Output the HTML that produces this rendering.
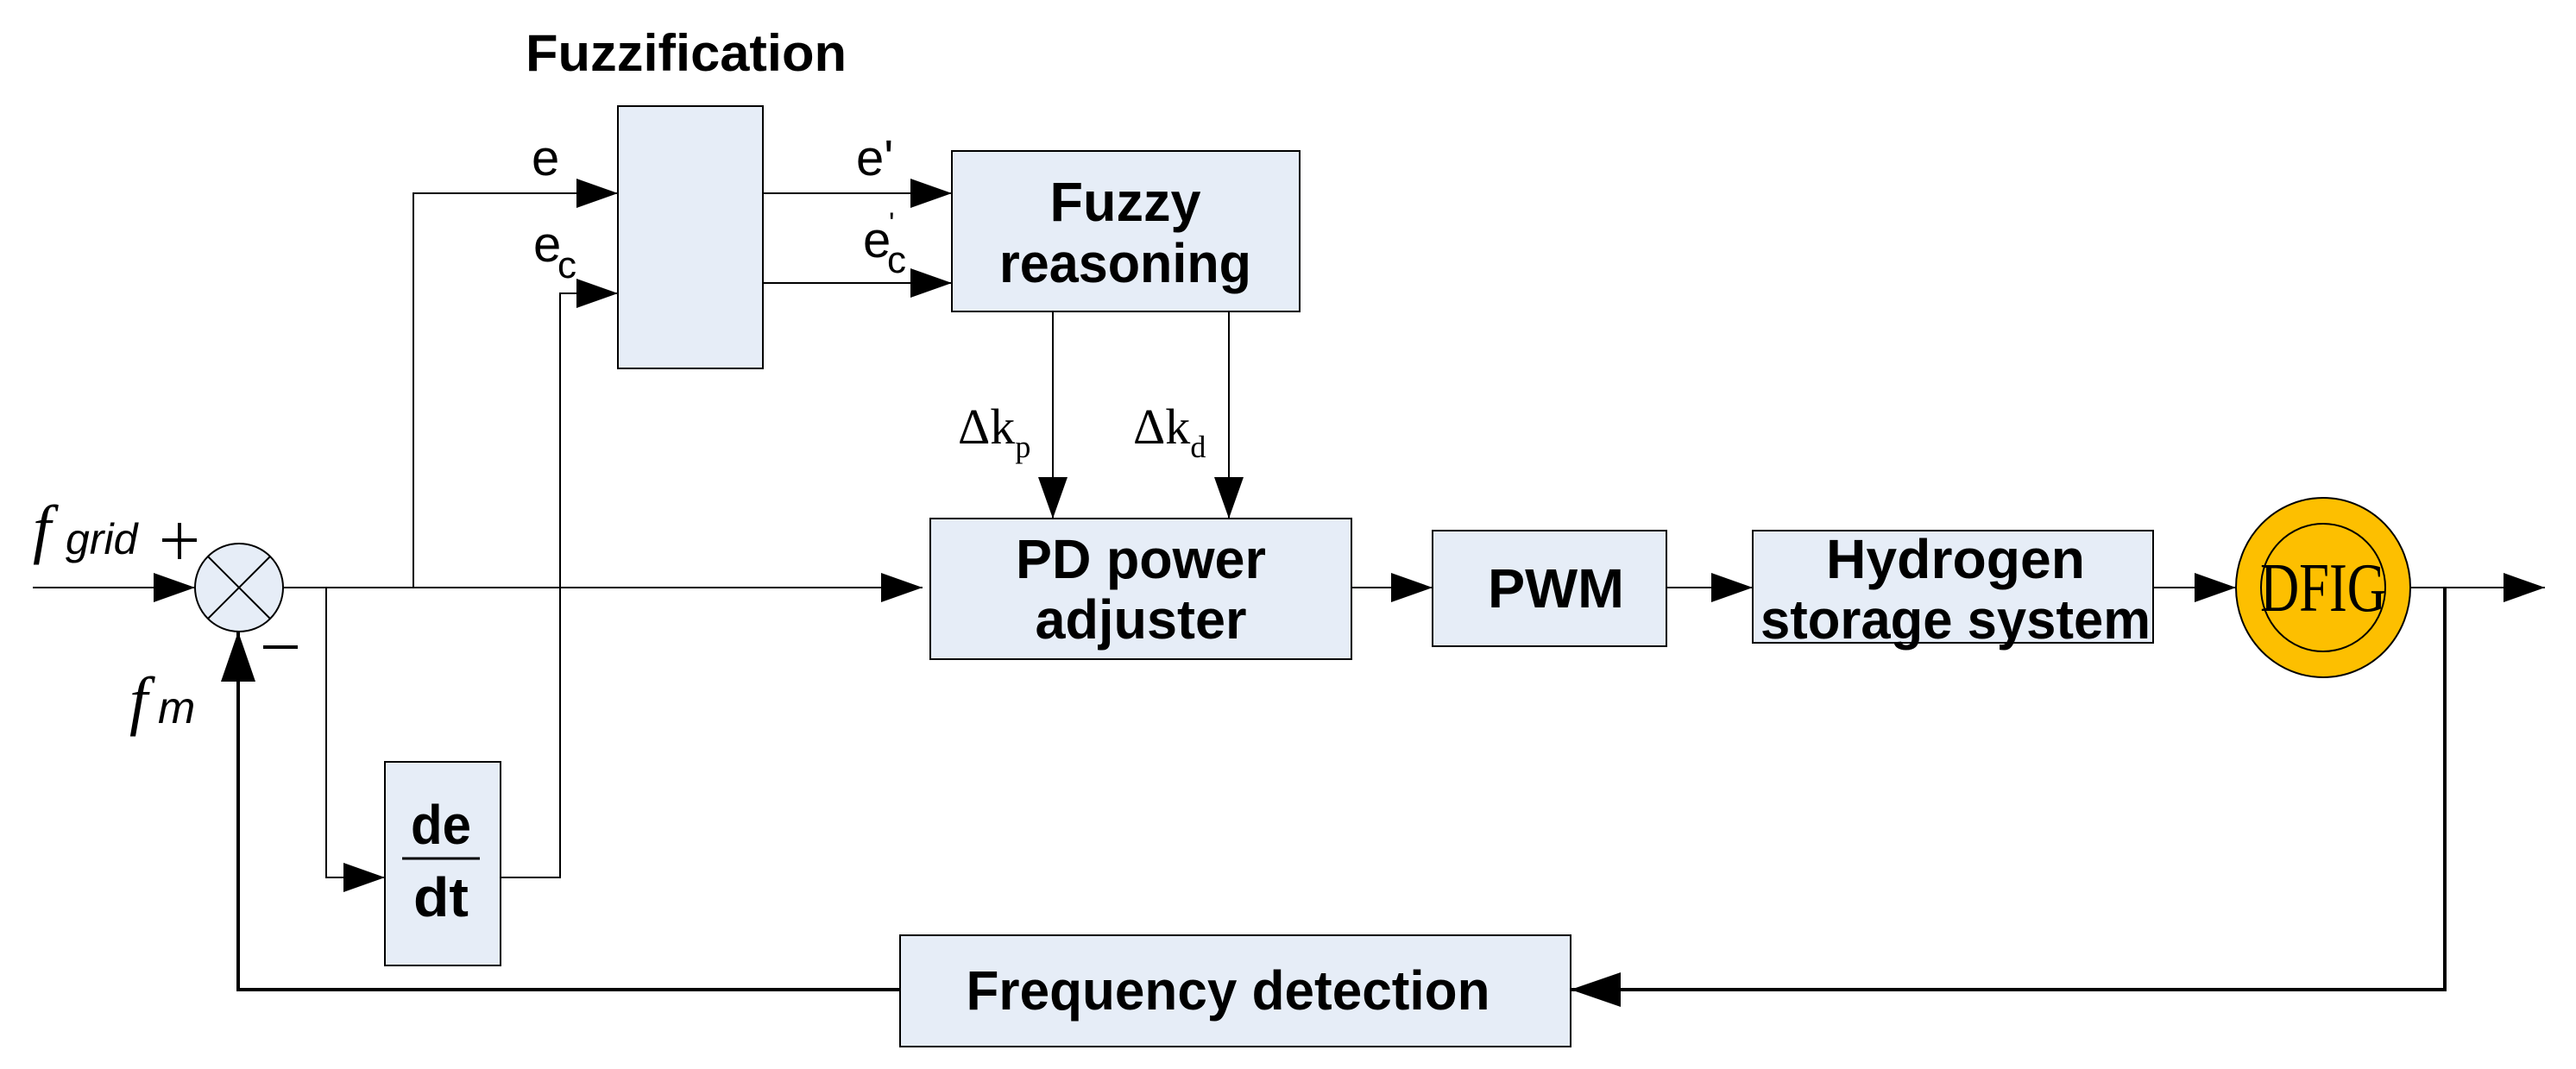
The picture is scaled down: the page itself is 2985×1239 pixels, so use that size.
<!DOCTYPE html>
<html><head><meta charset="utf-8"><style>html,body{margin:0;padding:0;background:#fff}svg{display:block}</style></head>
<body>
<svg width="2985" height="1239" viewBox="0 0 2985 1239" xmlns="http://www.w3.org/2000/svg">
<defs>
<marker id="a" markerWidth="48" markerHeight="34" refX="48" refY="17" orient="auto" markerUnits="userSpaceOnUse"><path d="M0,0 L48,17 L0,34 Z" fill="#000"/></marker>
<marker id="b" markerWidth="58" markerHeight="40" refX="58" refY="20" orient="auto" markerUnits="userSpaceOnUse"><path d="M0,0 L58,20 L0,40 Z" fill="#000"/></marker>
</defs>
<g font-family="Liberation Sans, sans-serif" font-weight="bold" fill="#000">
<text x="795" y="82" font-size="60" text-anchor="middle" textLength="372" lengthAdjust="spacingAndGlyphs">Fuzzification</text>
</g>
<g fill="#e6edf7" stroke="#000" stroke-width="2">
<rect x="716" y="123" width="168" height="304"/>
<rect x="1103" y="175" width="403" height="186"/>
<rect x="1078" y="601" width="488" height="163"/>
<rect x="1660" y="615" width="271" height="134"/>
<rect x="2031" y="615" width="464" height="130"/>
<rect x="446" y="883" width="134" height="236"/>
<rect x="1043" y="1084" width="777" height="129"/>
<circle cx="277" cy="681" r="51"/>
</g>
<g stroke="#000" stroke-width="2">
<line x1="241" y1="645" x2="313" y2="717"/><line x1="313" y1="645" x2="241" y2="717"/>
</g>
<ellipse cx="2692" cy="681" rx="101" ry="104" fill="#fdbf00" stroke="#000" stroke-width="2"/>
<ellipse cx="2692" cy="681" rx="72" ry="74" fill="#fdbf00" stroke="#000" stroke-width="2"/>
<g stroke="#000" stroke-width="2" fill="none">
<line x1="38" y1="681" x2="226" y2="681" marker-end="url(#a)"/>
<line x1="328" y1="681" x2="1069" y2="681" marker-end="url(#a)"/>
<polyline points="479,681 479,224 716,224" marker-end="url(#a)"/>
<polyline points="378,681 378,1017 446,1017" marker-end="url(#a)"/>
<polyline points="580,1017 649,1017 649,340 716,340" marker-end="url(#a)"/>
<line x1="884" y1="224" x2="1103" y2="224" marker-end="url(#a)"/>
<line x1="884" y1="328" x2="1103" y2="328" marker-end="url(#a)"/>
<line x1="1220" y1="361" x2="1220" y2="601" marker-end="url(#a)"/>
<line x1="1424" y1="361" x2="1424" y2="601" marker-end="url(#a)"/>
<line x1="1566" y1="681" x2="1660" y2="681" marker-end="url(#a)"/>
<line x1="1931" y1="681" x2="2031" y2="681" marker-end="url(#a)"/>
<line x1="2495" y1="681" x2="2591" y2="681" marker-end="url(#a)"/>
<line x1="2793" y1="681" x2="2949" y2="681" marker-end="url(#a)"/>
<line x1="466" y1="995" x2="556" y2="995" stroke-width="3"/>
</g>
<g stroke="#000" stroke-width="4" fill="none">
<polyline points="2833,681 2833,1147 1820,1147" marker-end="url(#b)"/>
<polyline points="1043,1147 276,1147 276,732" marker-end="url(#b)"/>
</g>
<g font-family="Liberation Sans, sans-serif" font-weight="bold" fill="#000" text-anchor="middle" font-size="64">
<text x="1304" y="256" textLength="175" lengthAdjust="spacingAndGlyphs">Fuzzy</text>
<text x="1304" y="327" textLength="292" lengthAdjust="spacingAndGlyphs">reasoning</text>
<text x="1322" y="670" textLength="290" lengthAdjust="spacingAndGlyphs">PD power</text>
<text x="1322" y="740" textLength="245" lengthAdjust="spacingAndGlyphs">adjuster</text>
<text x="1803" y="704" textLength="158" lengthAdjust="spacingAndGlyphs">PWM</text>
<text x="2266" y="670" textLength="300" lengthAdjust="spacingAndGlyphs">Hydrogen</text>
<text x="2266" y="740" textLength="452" lengthAdjust="spacingAndGlyphs">storage system</text>
<text x="511" y="978" textLength="70" lengthAdjust="spacingAndGlyphs">de</text>
<text x="511" y="1062" textLength="64" lengthAdjust="spacingAndGlyphs">dt</text>
<text x="1423" y="1170" textLength="607" lengthAdjust="spacingAndGlyphs">Frequency detection</text>
</g>
<text x="2692" y="708" font-family="Liberation Serif, serif" font-size="80" text-anchor="middle" textLength="146" lengthAdjust="spacingAndGlyphs">DFIG</text>
<g font-family="Liberation Sans, sans-serif" fill="#000" font-size="58">
<text x="616" y="203">e</text>
<text x="618" y="303">e</text><text x="646" y="322" font-size="44">c</text>
<text x="992" y="203">e'</text>
<text x="1000" y="298">e</text><text x="1028" y="316" font-size="44">c</text><text x="1030" y="270" font-size="34">'</text>
</g>
<g font-family="Liberation Serif, serif" fill="#000">
<text x="1110" y="514" font-size="58">Δk<tspan font-size="36" dy="16">p</tspan></text>
<text x="1313" y="514" font-size="58">Δk<tspan font-size="36" dy="16">d</tspan></text>
<text x="38" y="638" font-size="76" font-style="italic">f</text><text x="76" y="642" font-size="50" font-style="italic" font-family="Liberation Sans, sans-serif">grid</text>
<text x="150" y="837" font-size="76" font-style="italic">f</text><text x="183" y="838" font-size="52" font-style="italic" font-family="Liberation Sans, sans-serif">m</text>
</g>
<g stroke="#000" stroke-width="4">
<line x1="188" y1="626" x2="228" y2="626"/><line x1="208" y1="606" x2="208" y2="648"/>
<line x1="305" y1="750" x2="345" y2="750"/>
</g>
</svg>
</body></html>
